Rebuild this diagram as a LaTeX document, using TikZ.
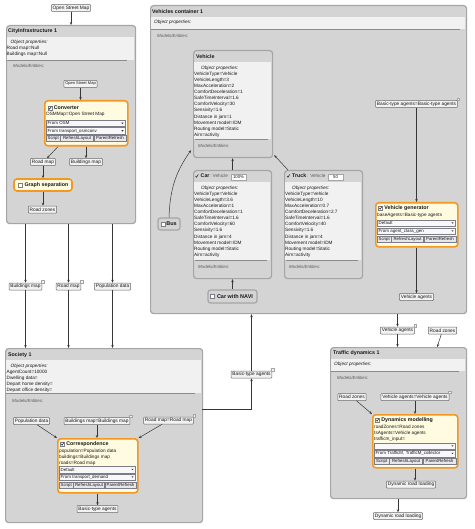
\documentclass[tikz,border=0pt]{standalone}
\usepackage{fontspec}
\setmainfont{Liberation Sans}
\usepackage{tikz}
\usetikzlibrary{positioning}
\usetikzlibrary{arrows.meta}

\definecolor{frame}{RGB}{165,165,165}
\definecolor{body}{RGB}{212,212,212}
\definecolor{bandc}{RGB}{241,241,241}
\definecolor{sepc}{RGB}{140,140,140}
\definecolor{txt}{RGB}{25,25,25}
\definecolor{mtxt}{RGB}{90,90,90}
\definecolor{portc}{RGB}{105,105,105}
\definecolor{portf}{RGB}{242,242,242}
\definecolor{orng}{RGB}{242,152,35}
\definecolor{ylw}{RGB}{255,251,224}
\definecolor{dropc}{RGB}{125,125,135}
\definecolor{dropf}{RGB}{248,248,250}
\definecolor{btnf}{RGB}{230,230,235}
\definecolor{arrc}{RGB}{55,55,55}

\begin{document}
\begin{tikzpicture}[x=1pt,y=-1pt,
    every node/.style={text=txt},
    cont/.style={draw=frame, fill=body, rounded corners=3pt, line width=1.2pt, anchor=north west, inner sep=0pt},
    sepl/.style={draw=sepc, line width=0.8pt},
    title/.style={font=\fontsize{5.3}{6}\selectfont\bfseries, anchor=west, inner sep=0pt},
    props/.style={font=\fontsize{4.7}{6.1}\selectfont, anchor=north west, align=left, inner sep=0pt},
    models/.style={font=\fontsize{4.4}{5}\selectfont\itshape, text=mtxt, anchor=west, inner sep=0pt},
    port/.style={draw=portc, fill=portf, rounded corners=0.8pt, line width=0.5pt, font=\fontsize{4.8}{5}\selectfont, inner xsep=1.4pt, inner ysep=0pt, minimum height=7pt},
    icon/.style={draw=frame, fill=portf, line width=0.3pt},
    model/.style={draw=orng, fill=ylw, rounded corners=3pt, line width=1.6pt, anchor=north west, inner sep=0pt},
    drop/.style={draw=dropc, fill=dropf, line width=0.4pt, font=\fontsize{4.4}{5}\selectfont, anchor=north west, inner xsep=1.5pt, inner ysep=0pt, minimum height=6.5pt, text width=#1, align=left},
    btn/.style={draw=dropc, fill=btnf, line width=0.4pt, font=\fontsize{4.3}{5}\selectfont, inner xsep=0.5pt, inner ysep=0pt, minimum height=6.5pt},
    chk/.style={draw=dropc, fill=white, line width=0.4pt, minimum size=4pt, inner sep=0pt},
    tick/.style={draw=txt, line width=0.5pt},
    smallbox/.style={draw=frame, fill=body, rounded corners=2.5pt, line width=1.2pt, font=\fontsize{5.5}{6}\selectfont\bfseries, inner sep=0pt},
    field/.style={draw=frame, fill=white, line width=0.4pt, font=\fontsize{4.3}{5}\selectfont, minimum width=15pt, minimum height=6.5pt, inner sep=0pt},
    arr/.style={draw=arrc, line width=0.5pt, -{Stealth[length=3pt,width=2.4pt]}},
  ]

  \fill[white] (0,0) rectangle (474,529);
  \useasboundingbox (0,0) rectangle (474,529);

  % CityInfrastructure 1
  \node[port] (osm0) at (71,8) {Open Street Map};
  \node[cont, minimum width=129pt, minimum height=198pt] (city) at (6,25) {};
  \fill[bandc] (6.6,37) rectangle (134.4,60);
  \draw[sepl] (7,60.4) -- (127,60.4);
  \node[title] (city-t) at (8,31) {CityInfrastructure 1};
  \node[props] (city-p) at (6.5,39.6) {\hspace{4pt}\textit{Object properties:}\\Road map=Null\\Buildings map=Null};
  \node[models] (city-m) at (13,65.5) {Models/Entities:};

  \node[port, font=\fontsize{4}{5}\selectfont] (osm1) at (80.5,84) {Open Street Map};
  \node[model, minimum width=83pt, minimum height=45pt] (conv) at (44,100) {};
  \node[chk] (conv-c) at (50,108) {};
  \draw[tick] ([shift={(-1.3,0)}]conv-c.center) -- ++(1,1.2) -- ++(1.7,-2.8);
  \node[title, right=1.5pt of conv-c] (conv-t) {Converter};
  \node[props] (conv-p) at (46,111.6) {OSMMap=Open Street Map};
  \node[drop=76pt] (conv-d1) at (46,120) {From OSM};
  \node[drop=76pt] (conv-d2) at (46,127.5) {From transport\_osmconv};
  \fill[arrc] ([xshift=-4pt,yshift=0.7pt]conv-d1.east) -- ++(2.2,0) -- ++(-1.1,1.4) -- cycle;
  \fill[arrc] ([xshift=-4pt,yshift=0.7pt]conv-d2.east) -- ++(2.2,0) -- ++(-1.1,1.4) -- cycle;
  \node[btn, minimum width=14pt, anchor=north west] (conv-b1) at (46,135) {Script};
  \node[btn, minimum width=33pt, right=0pt of conv-b1] (conv-b2) {RefreshLayout};
  \node[btn, minimum width=32pt, right=0pt of conv-b2] (conv-b3) {ParentRefresh};

  \node[port] (rmap1) at (43,162) {Road map};
  \node[port] (bmap1) at (86,162) {Buildings map};
  \node[model, anchor=center, minimum width=58pt, minimum height=12pt, font=\fontsize{5.3}{6}\selectfont\bfseries] (gsep) at (43,185) {\hspace{7pt}Graph separation};
  \node[chk] (gsep-c) at (20,185) {};
  \node[port] (rzones1) at (42.5,209.5) {Road zones};

  \node[port] (bmap2) at (25.5,286.5) {Buildings map};
  \node[port] (rmap2) at (68.5,286.5) {Road map};
  \node[port] (popd1) at (112.5,286.5) {Population data};
  \draw[icon] ([shift={(-1,0)}]bmap2.north east) rectangle ++(2.5,-2.5);
  \draw[icon] ([shift={(-1,0)}]rmap2.north east) rectangle ++(2.5,-2.5);

  % Society 1
  \node[cont, minimum width=197pt, minimum height=174pt] (soc) at (5,348) {};
  \fill[bandc] (5.6,360) rectangle (201.4,393);
  \draw[sepl] (6,393.4) -- (195,393.4);
  \node[title] (soc-t) at (8,355) {Society 1};
  \node[props] (soc-p) at (6.5,363.6) {\hspace{4pt}\textit{Object properties:}\\AgentCount=10000\\Dwelling data=\\Depart home density=\\Depart office density=};
  \node[models] (soc-m) at (12,401) {Models/Entities:};

  \node[port] (popd2) at (31.5,421) {Population data};
  \node[port] (bmapeq) at (97,421) {Buildings map=Buildings map};
  \node[port] (rmapeq) at (168.5,420.5) {Road map=Road map};
  \draw[icon] ([shift={(-1,0)}]bmapeq.north east) rectangle ++(2.5,-2.5);
  \draw[icon] ([shift={(-1,0)}]rmapeq.north east) rectangle ++(2.5,-2.5);
  \node[model, minimum width=80pt, minimum height=54pt] (corr) at (57,438) {};
  \node[chk] (corr-c) at (62.5,444) {};
  \draw[tick] ([shift={(-1.3,0)}]corr-c.center) -- ++(1,1.2) -- ++(1.7,-2.8);
  \node[title, right=1.5pt of corr-c] (corr-t) {Correspondence};
  \node[props] (corr-p) at (59,448.6) {population=Population data\\buildings=Buildings map\\roads=Road map};
  \node[drop=73pt] (corr-d1) at (59,466) {Default};
  \node[drop=73pt] (corr-d2) at (59,473.5) {From transport\_demand};
  \fill[arrc] ([xshift=-4pt,yshift=0.7pt]corr-d1.east) -- ++(2.2,0) -- ++(-1.1,1.4) -- cycle;
  \fill[arrc] ([xshift=-4pt,yshift=0.7pt]corr-d2.east) -- ++(2.2,0) -- ++(-1.1,1.4) -- cycle;
  \node[btn, minimum width=14pt, anchor=north west] (corr-b1) at (59,481.5) {Script};
  \node[btn, minimum width=31pt, right=0pt of corr-b1] (corr-b2) {RefreshLayout};
  \node[btn, minimum width=31pt, right=0pt of corr-b2] (corr-b3) {ParentRefresh};
  \node[port] (bta1) at (97.5,509) {Basic-type agents};
  \coordinate (socout) at (202,409);

  % Vehicles container 1
  \node[cont, minimum width=316pt, minimum height=308pt] (veh) at (150,5) {};
  \fill[bandc] (150.6,17) rectangle (465.4,29);
  \draw[sepl] (151,29.4) -- (460,29.4);
  \node[title] (veh-t) at (152,12) {Vehicles container 1};
  \node[props] (veh-p) at (151,19.6) {\hspace{3pt}\textit{Object properties:}};
  \node[models] (veh-m) at (157,35.5) {Models/Entities:};

  \node[cont, minimum width=79pt, minimum height=107pt] (vehm) at (193,50) {};
  \fill[bandc] (193.6,62.5) rectangle (271.4,139);
  \draw[sepl] (195,139.4) -- (268,139.4);
  \node[title] (vehm-t) at (196,57) {Vehicle};
  \node[props] (vehm-p) at (194,65.6) {\hspace{7pt}\textit{Object properties:}\\VehicleType=Vehicle\\VehicleLength=3\\MaxAcceleration=2\\ComfortDeceleration=1\\SafeTimeInterval=1.6\\ComfortVelocity=30\\Sensivity=1.6\\Distance in jam=1\\Movement model=IDM\\Routing model=Static\\Aim=activity};
  \node[models] (vehm-m) at (198,146) {Models/Entities:};

  \node[cont, minimum width=78pt, minimum height=108pt] (carm) at (193,170) {};
  \fill[bandc] (193.6,182) rectangle (270.4,260);
  \draw[sepl] (195,260.4) -- (267,260.4);
  \draw[tick] (195.5,176) -- ++(1,1.2) -- ++(1.8,-2.8);
  \node[title] (carm-t) at (200.5,176) {Car};
  \node[props, anchor=west, text=mtxt] (carm-s) at (209.5,176.3) {: Vehicle};
  \node[field] (carm-f) at (238.5,177) {100\%};
  \node[props] (carm-p) at (194,185.6) {\hspace{7pt}\textit{Object properties:}\\VehicleType=Vehicle\\VehicleLength=3.6\\MaxAcceleration=1\\ComfortDeceleration=1\\SafeTimeInterval=1.6\\ComfortVelocity=60\\Sensivity=1.6\\Distance in jam=4\\Movement model=IDM\\Routing model=Static\\Aim=activity};
  \node[models] (carm-m) at (198,266.5) {Models/Entities:};

  \node[cont, minimum width=78pt, minimum height=108pt] (truckm) at (284,170) {};
  \fill[bandc] (284.6,182) rectangle (361.4,260);
  \draw[sepl] (286,260.4) -- (358,260.4);
  \draw[tick] (287,176) -- ++(1,1.2) -- ++(1.8,-2.8);
  \node[title] (truckm-t) at (292,176) {Truck};
  \node[props, anchor=west, text=mtxt] (truckm-s) at (307,176.3) {: Vehicle};
  \node[field] (truckm-f) at (335.5,177) {50};
  \node[props] (truckm-p) at (285,185.6) {\hspace{7pt}\textit{Object properties:}\\VehicleType=Vehicle\\VehicleLength=10\\MaxAcceleration=0.7\\ComfortDeceleration=2.7\\SafeTimeInterval=1.6\\ComfortVelocity=40\\Sensivity=1.6\\Distance in jam=4\\Movement model=IDM\\Routing model=Static\\Aim=activity};
  \node[models] (truckm-m) at (289,266.5) {Models/Entities:};

  \node[smallbox, minimum width=22pt, minimum height=12pt] (bus) at (169,224) {\hspace{5pt}Bus};
  \node[chk] (bus-c) at (163.5,224) {};
  \node[smallbox, minimum width=49pt, minimum height=13pt] (navi) at (232.5,296.5) {\hspace{5pt}Car with NAVI};
  \node[chk] (navi-c) at (212.5,296.5) {};

  \node[port] (bta3) at (416.5,104) {Basic-type agents=Basic-type agents};
  \draw[icon] ([shift={(-1,0)}]bta3.north east) rectangle ++(2.5,-2.5);
  \node[model, minimum width=82pt, minimum height=44pt] (vgen) at (375,202) {};
  \node[chk] (vgen-c) at (380.5,208) {};
  \draw[tick] ([shift={(-1.3,0)}]vgen-c.center) -- ++(1,1.2) -- ++(1.7,-2.8);
  \node[title, right=1.5pt of vgen-c] (vgen-t) {Vehicle generator};
  \node[props] (vgen-p) at (377,212.6) {baseAgents=Basic-type agents};
  \node[drop=75pt] (vgen-d1) at (377,219.5) {Default};
  \node[drop=75pt] (vgen-d2) at (377,227.5) {From agent\_class\_gen};
  \fill[arrc] ([xshift=-4pt,yshift=0.7pt]vgen-d1.east) -- ++(2.2,0) -- ++(-1.1,1.4) -- cycle;
  \fill[arrc] ([xshift=-4pt,yshift=0.7pt]vgen-d2.east) -- ++(2.2,0) -- ++(-1.1,1.4) -- cycle;
  \node[btn, minimum width=14pt, anchor=north west] (vgen-b1) at (377,235.5) {Script};
  \node[btn, minimum width=32pt, right=0pt of vgen-b1] (vgen-b2) {RefreshLayout};
  \node[btn, minimum width=32pt, right=0pt of vgen-b2] (vgen-b3) {ParentRefresh};
  \node[port] (vagents1) at (416.5,297) {Vehicle agents};

  \node[port] (bta2) at (251.5,374.5) {Basic-type agents};
  \node[port] (vagents2) at (397.5,330.5) {Vehicle agents};
  \node[port] (rzones2) at (442.5,330.5) {Road zones};
  \draw[icon] ([shift={(-1,0)}]bta2.north east) rectangle ++(2.5,-2.5);
  \draw[icon] ([shift={(-1,0)}]vagents2.north east) rectangle ++(2.5,-2.5);

  % Traffic dynamics 1
  \node[cont, minimum width=136pt, minimum height=151pt] (traf) at (330,347) {};
  \fill[bandc] (330.6,358.5) rectangle (465.4,371);
  \draw[sepl] (331,371.4) -- (459,371.4);
  \node[title] (traf-t) at (333,353) {Traffic dynamics 1};
  \node[props] (traf-p) at (331,361.6) {\hspace{3pt}\textit{Object properties:}};
  \node[models] (traf-m) at (337,377.5) {Models/Entities:};

  \node[port] (rzones3) at (352,397) {Road zones};
  \node[port] (vageq) at (415,397) {Vehicle agents=Vehicle agents};
  \draw[icon] ([shift={(-1,0)}]vageq.north east) rectangle ++(2.5,-2.5);
  \node[model, minimum width=85pt, minimum height=53pt] (dyn) at (372,414) {};
  \node[chk] (dyn-c) at (377.5,420) {};
  \draw[tick] ([shift={(-1.3,0)}]dyn-c.center) -- ++(1,1.2) -- ++(1.7,-2.8);
  \node[title, right=1.5pt of dyn-c] (dyn-t) {Dynamics modelling};
  \node[props] (dyn-p) at (374,424.6) {roadZones=Road zones\\tsAgents=Vehicle agents\\trafficm\_input=};
  \node[drop=78pt] (dyn-d1) at (374,442.5) {};
  \node[drop=78pt] (dyn-d2) at (374,450) {From TrafficM, TrafficM\_collector};
  \fill[arrc] ([xshift=-4pt,yshift=0.7pt]dyn-d1.east) -- ++(2.2,0) -- ++(-1.1,1.4) -- cycle;
  \fill[arrc] ([xshift=-4pt,yshift=0.7pt]dyn-d2.east) -- ++(2.2,0) -- ++(-1.1,1.4) -- cycle;
  \node[btn, minimum width=15pt, anchor=north west] (dyn-b1) at (374,457.5) {Script};
  \node[btn, minimum width=33pt, right=0pt of dyn-b1] (dyn-b2) {RefreshLayout};
  \node[btn, minimum width=33pt, right=0pt of dyn-b2] (dyn-b3) {ParentRefresh};
  \node[port] (drl1) at (411,484.5) {Dynamic road loading};
  \node[port] (drl2) at (398,516) {Dynamic road loading};

  % connectors
  \draw[arr] (osm0) -- (osm0 |- city.north);
  \draw[arr] (osm1) -- (osm1 |- conv.north);
  \draw[arr] ([xshift=14pt]conv.south west) -- ([xshift=4pt]rmap1.north);
  \draw[arr] (bmap1 |- conv.south) -- (bmap1);
  \draw[arr] (rmap1) -- (rmap1 |- gsep.north);
  \draw[arr] (gsep) -- (gsep |- rzones1.north);
  \draw[arr] (bmap2 |- city.south) -- (bmap2);
  \draw[arr] (rmap2 |- city.south) -- (rmap2);
  \draw[arr] (popd1 |- city.south) -- (popd1);
  \draw[arr] (bmap2) -- (bmap2 |- soc.north);
  \draw[arr] (rmap2) -- (rmap2 |- soc.north);
  \draw[arr] (popd1) -- (popd1 |- soc.north);
  \draw[arr] (popd2) -- (corr.north west);
  \draw[arr] (bmapeq) -- (bmapeq |- corr.north);
  \draw[arr] (rmapeq) -- (corr.north east);
  \draw[arr] (bta1 |- corr.south) -- (bta1);
  \draw[arr] (socout) -| (bta2);
  \draw[arr] (bta2) -- (bta2 |- veh.south);
  \draw[arr] (bus.north) to[out=88,in=235] ([xshift=-2pt,yshift=8pt]vehm.south west);
  \draw[arr] (carm.north) -- (carm.north |- vehm.south);
  \draw[arr] ([xshift=4pt]truckm.north west) -- ([xshift=1pt,yshift=3pt]vehm.south east);
  \draw[arr] (navi) -- (navi |- carm.south);
  \draw[arr] (bta3) -- (bta3 |- vgen.north);
  \draw[arr] (vagents1 |- vgen.south) -- (vagents1);
  \draw[arr] (vagents2 |- veh.south) -- (vagents2);
  \draw[arr] (vagents2) -- (vagents2 |- traf.north);
  \draw[arr] (rzones2) -- ([xshift=-30pt]traf.north east);
  \draw[arr] (rzones3) -- (dyn.north west);
  \draw[arr] (vageq) -- (vageq |- dyn.north);
  \draw[arr] (vageq |- dyn.south) -- (vageq |- drl1.north);
  \draw[arr] (drl2 |- traf.south) -- (drl2);

\end{tikzpicture}
\end{document}
